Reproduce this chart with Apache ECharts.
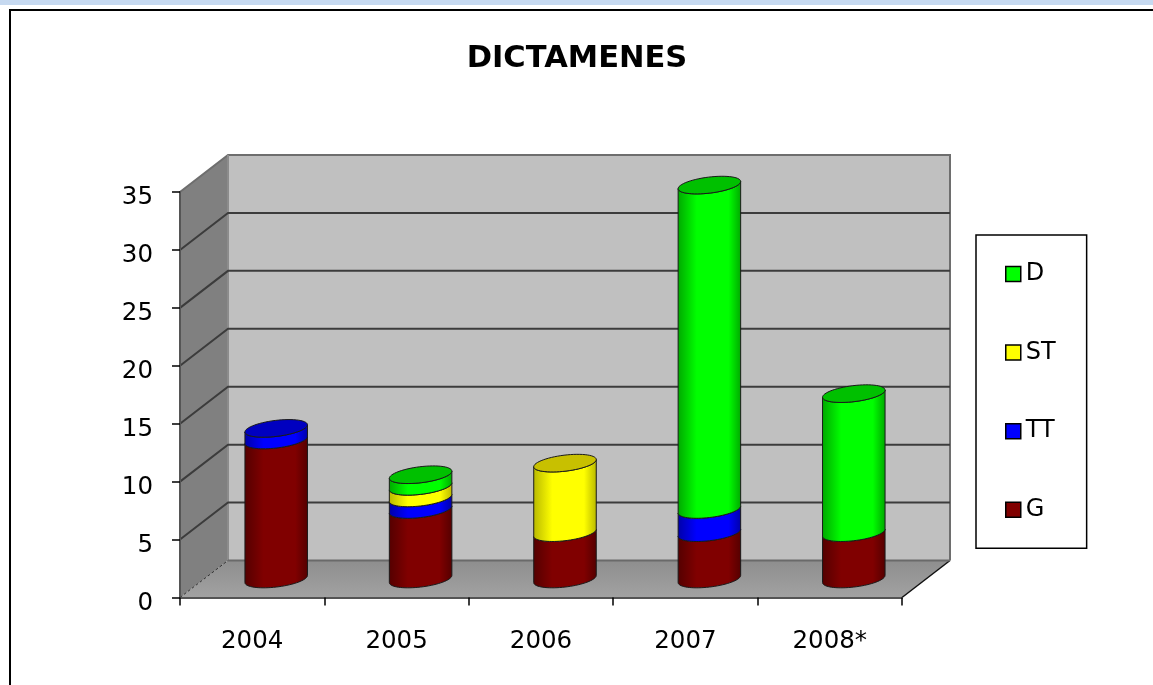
<!DOCTYPE html>
<html>
<head>
<meta charset="utf-8">
<title>DICTAMENES</title>
<script src="https://cdn.jsdelivr.net/npm/echarts@6/dist/echarts.min.js"></script>
<style>
  html, body { margin: 0; padding: 0; background: #fff; overflow: hidden; }
  #chart { width: 1153px; height: 685px; }
</style>
</head>
<body>
<div id="chart"></div>
<script>
const years = ['2004', '2005', '2006', '2007', '2008*'];
const gValues = [12, 6, 4, 4, 4];
const ttValues = [1, 1, 0, 2, 0];
const stValues = [0, 1, 6, 0, 0];
const dValues = [0, 1, 0, 28, 12];
const yTicks = [0, 5, 10, 15, 20, 25, 30, 35];
const legendOrder = ['D', 'ST', 'TT', 'G'];

// side colour, shaded edge, top cap
const colors = {
  G: ['#800000', '#540000', '#600000'],
  TT: ['#0000ff', '#0000a8', '#0000c0'],
  ST: ['#ffff00', '#b8b800', '#c8c000'],
  D: ['#00ff00', '#00a800', '#00c000']
};

// fake 3d: how far the back wall sits from the front of the plot
const depthX = 48;
const depthY = -37;
const tilt = 7 * Math.PI / 180;
const capHeight = 8;

const font = '"DejaVu Sans", Verdana, sans-serif';

// turn the values into stacked [index, start, end, isTop] rows
const stackOrder = [['G', gValues], ['TT', ttValues], ['ST', stValues], ['D', dValues]];
const totals = years.map((y, i) => stackOrder.reduce((sum, s) => sum + s[1][i], 0));
const running = years.map(() => 0);
const stacked = stackOrder.map(([name, values]) => {
  const rows = [];
  values.forEach((v, i) => {
    if (v > 0) {
      rows.push([i, running[i], running[i] + v, running[i] + v === totals[i] ? 1 : 0]);
      running[i] += v;
    }
  });
  return { name, rows };
});

function ellipsePoint(cx, cy, a, t) {
  const b = capHeight;
  return [
    cx + a * Math.cos(t) * Math.cos(tilt) + b * Math.sin(t) * Math.sin(tilt),
    cy - a * Math.cos(t) * Math.sin(tilt) + b * Math.sin(t) * Math.cos(tilt)
  ];
}

function renderCylinder(name) {
  const c = colors[name];
  return function (params, api) {
    const bottom = api.coord([api.value(0), api.value(1)]);
    const top = api.coord([api.value(0), api.value(2)]);
    const a = api.size([1, 0])[0] * 0.218;
    const cx = bottom[0] + depthX / 2;
    const yBottom = bottom[1] + depthY / 2;
    const yTop = top[1] + depthY / 2;
    const t0 = Math.atan2(capHeight * Math.sin(tilt), a * Math.cos(tilt));

    const points = [];
    const steps = 36;
    for (let i = 0; i <= steps; i++) {
      points.push(ellipsePoint(cx, yTop, a, t0 + Math.PI * i / steps));
    }
    for (let i = steps; i >= 0; i--) {
      points.push(ellipsePoint(cx, yBottom, a, t0 + Math.PI * i / steps));
    }

    const children = [{
      type: 'polygon',
      shape: { points: points },
      style: {
        fill: new echarts.graphic.LinearGradient(0, 0, 1, 0, [
          { offset: 0, color: c[1] },
          { offset: 0.3, color: c[0] },
          { offset: 0.8, color: c[0] },
          { offset: 1, color: c[1] }
        ]),
        stroke: '#1a1a1a',
        lineWidth: 1
      }
    }];

    if (api.value(3) === 1) {
      const capPoints = [];
      for (let i = 0; i < 60; i++) {
        capPoints.push(ellipsePoint(cx, yTop, a, Math.PI * 2 * i / 60));
      }
      children.push({
        type: 'polygon',
        shape: { points: capPoints },
        style: { fill: c[2], stroke: '#1a1a1a', lineWidth: 1 }
      });
    }
    return { type: 'group', children: children };
  };
}

function renderWalls(params, api) {
  const box = params.coordSys;
  const left = box.x;
  const right = box.x + box.width;
  const floorY = api.coord([0, yTicks[0]])[1];
  const topY = api.coord([0, yTicks[yTicks.length - 1]])[1];
  const edge = '#6e6e6e';

  const children = [
    {
      type: 'polygon',
      shape: { points: [[left, floorY], [left + depthX, floorY + depthY], [left + depthX, topY + depthY], [left, topY]] },
      style: { fill: '#808080' }
    },
    {
      type: 'polygon',
      shape: { points: [[left + depthX, floorY + depthY], [right + depthX, floorY + depthY], [right + depthX, topY + depthY], [left + depthX, topY + depthY]] },
      style: { fill: '#c0c0c0' }
    },
    {
      type: 'polygon',
      shape: { points: [[left, floorY], [right, floorY], [right + depthX, floorY + depthY], [left + depthX, floorY + depthY]] },
      style: {
        fill: new echarts.graphic.LinearGradient(0, 0, 0, 1, [
          { offset: 0, color: '#8e8e8e' },
          { offset: 1, color: '#a2a2a2' }
        ])
      }
    },
    {
      type: 'polyline',
      shape: { points: [[left, topY], [left + depthX, topY + depthY], [right + depthX, topY + depthY], [right + depthX, floorY + depthY]] },
      style: { fill: 'none', stroke: edge, lineWidth: 2 }
    },
    {
      type: 'line',
      shape: { x1: left + depthX, y1: topY + depthY, x2: left + depthX, y2: floorY + depthY },
      style: { stroke: '#8c8c8c', lineWidth: 2 }
    },
    {
      type: 'line',
      shape: { x1: left, y1: floorY, x2: left + depthX, y2: floorY + depthY },
      style: { stroke: '#333', lineWidth: 1, lineDash: [3, 2] }
    },
    {
      type: 'line',
      shape: { x1: right, y1: floorY, x2: right + depthX, y2: floorY + depthY },
      style: { stroke: '#111', lineWidth: 1.5 }
    },
    {
      type: 'line',
      shape: { x1: left + depthX, y1: floorY + depthY, x2: right + depthX, y2: floorY + depthY },
      style: { stroke: '#6a6a6a', lineWidth: 2 }
    }
  ];

  yTicks.slice(1, -1).forEach(v => {
    const y = api.coord([0, v])[1];
    children.push({
      type: 'polyline',
      shape: { points: [[left, y], [left + depthX, y + depthY], [right + depthX, y + depthY]] },
      style: { fill: 'none', stroke: '#3c3c3c', lineWidth: 2 }
    });
  });
  return { type: 'group', children: children };
}

const chart = echarts.init(document.getElementById('chart'));

const cylinderSeries = stacked.map(s => ({
  name: s.name,
  type: 'custom',
  renderItem: renderCylinder(s.name),
  data: s.rows,
  encode: { x: 0, y: [1, 2] },
  clip: false,
  z: 3,
  itemStyle: { color: colors[s.name][0] }
}));

chart.setOption({
  animation: false,
  backgroundColor: '#fff',
  title: {
    text: 'DICTAMENES',
    left: 572,
    top: 39,
    textAlign: 'center',
    textStyle: { fontFamily: font, fontSize: 30.5, fontWeight: 'bold', color: '#000' }
  },
  legend: {
    data: legendOrder,
    orient: 'vertical',
    left: 976,
    top: 235,
    padding: [27, 31, 26.5, 29],
    itemWidth: 15,
    itemHeight: 15,
    itemGap: 54.6,
    icon: 'rect',
    selectedMode: false,
    backgroundColor: '#fff',
    borderColor: '#000',
    borderWidth: 1.5,
    itemStyle: { borderColor: '#000', borderWidth: 1.5 },
    textStyle: { fontFamily: font, fontSize: 24, color: '#000' }
  },
  grid: { left: 180, right: 251, top: 192, height: 405.5 },
  xAxis: {
    type: 'category',
    data: years,
    axisLine: { lineStyle: { color: '#555', width: 2 } },
    axisTick: { show: true, length: 8, lineStyle: { color: '#000', width: 1.5 } },
    axisLabel: { fontFamily: font, fontSize: 24.5, color: '#000', margin: 32 }
  },
  yAxis: {
    type: 'value',
    min: 0,
    max: 35,
    interval: 5,
    splitLine: { show: false },
    axisLine: { show: true, lineStyle: { color: '#555', width: 2 } },
    axisTick: { show: true, length: 8, lineStyle: { color: '#000', width: 1.5 } },
    axisLabel: { fontFamily: font, fontSize: 24.5, color: '#000', margin: 27, verticalAlign: 'top', lineHeight: 12 }
  },
  graphic: [
    { type: 'rect', silent: true, z: -10, shape: { x: 0, y: 0, width: 1153, height: 5 }, style: { fill: '#c6d9f0' } },
    { type: 'polyline', silent: true, z: -10, shape: { points: [[10, 685], [10, 10], [1153, 10]] }, style: { fill: 'none', stroke: '#000', lineWidth: 2 } }
  ],
  series: [
    {
      type: 'custom',
      renderItem: renderWalls,
      data: [[0, 0]],
      clip: false,
      silent: true,
      z: -1
    }
  ].concat(cylinderSeries)
});
</script>
</body>
</html>
